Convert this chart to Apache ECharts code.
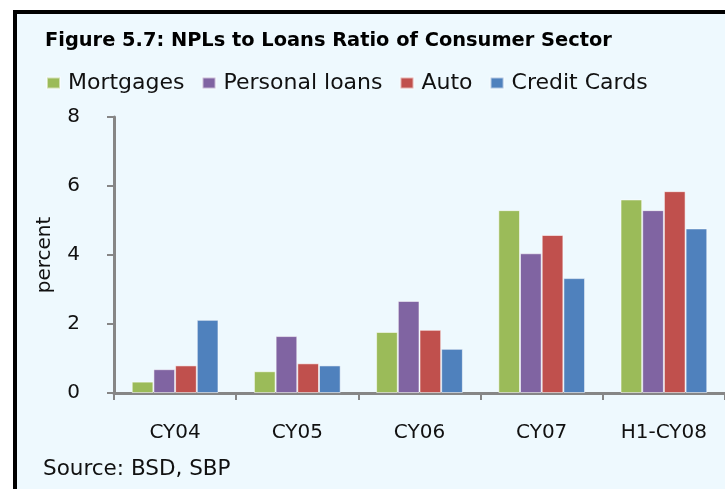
<!DOCTYPE html>
<html>
<head>
<meta charset="utf-8">
<script src="https://cdn.jsdelivr.net/npm/echarts@6/dist/echarts.min.js"></script>
<style>
html,body{margin:0;padding:0;background:#fff;}
#c{width:725px;height:489px;}
</style>
</head>
<body>
<div id="c"></div>
<script>
const categories = ['CY04', 'CY05', 'CY06', 'CY07', 'H1-CY08'];
const mortgages = [0.33, 0.63, 1.77, 5.30, 5.61];
const personalLoans = [0.69, 1.65, 2.67, 4.05, 5.30];
const auto = [0.80, 0.86, 1.83, 4.58, 5.85];
const creditCards = [2.12, 0.80, 1.28, 3.33, 4.77];
const seriesNames = ['Mortgages', 'Personal loans', 'Auto', 'Credit Cards'];
const colors = ['#9bbb59', '#8064a2', '#c0504d', '#4f81bd'];
const yTicks = { min: 0, max: 8, interval: 2 };

const font = 'DejaVu Sans';
const chart = echarts.init(document.getElementById('c'));
const dataSets = [mortgages, personalLoans, auto, creditCards];

chart.setOption({
  animation: false,
  backgroundColor: '#ffffff',
  graphic: [
    { type: 'rect', z: -10, shape: { x: 15, y: 12, width: 800, height: 600 },
      style: { fill: '#eef9fe', stroke: '#000', lineWidth: 4 } },
    { type: 'text', left: 43, top: 458,
      style: { text: 'Source: BSD, SBP', font: '21.5px "DejaVu Sans"', fill: '#111' } }
  ],
  title: {
    text: 'Figure 5.7: NPLs to Loans Ratio of Consumer Sector',
    left: 45, top: 31, padding: 0,
    textStyle: { fontFamily: font, fontWeight: 'bold', fontSize: 19.4, color: '#000' }
  },
  legend: {
    left: 46, top: 72, padding: 0,
    icon: 'rect', itemWidth: 13, itemHeight: 11, itemGap: 17,
    textStyle: { fontFamily: font, fontSize: 22, color: '#111', padding: [0, 0, 0, 3] },
    data: seriesNames
  },
  grid: { left: 114, top: 117, width: 611.5, height: 276, containLabel: false },
  xAxis: {
    type: 'category', data: categories,
    axisLine: { lineStyle: { color: '#868686', width: 3 } },
    axisTick: { show: true, alignWithLabel: false, length: 7, lineStyle: { color: '#868686', width: 2 } },
    axisLabel: { margin: 30, fontFamily: font, fontSize: 20, color: '#111' }
  },
  yAxis: {
    type: 'value', min: yTicks.min, max: yTicks.max, interval: yTicks.interval,
    name: 'percent', nameLocation: 'middle', nameGap: 59, nameRotate: 90,
    nameTextStyle: { fontFamily: font, fontSize: 20, color: '#111' },
    axisLine: { show: true, lineStyle: { color: '#868686', width: 3 } },
    axisTick: { show: true, length: 7, lineStyle: { color: '#868686', width: 2 } },
    splitLine: { show: false },
    axisLabel: { margin: 34, fontFamily: font, fontSize: 20, color: '#111' }
  },
  series: seriesNames.map((n, i) => ({
    name: n, type: 'bar', data: dataSets[i],
    barGap: '0%', barCategoryGap: '29%',
    itemStyle: { color: colors[i], borderColor: 'rgba(255,255,255,0.55)', borderWidth: 1 }
  }))
});
</script>
</body>
</html>
